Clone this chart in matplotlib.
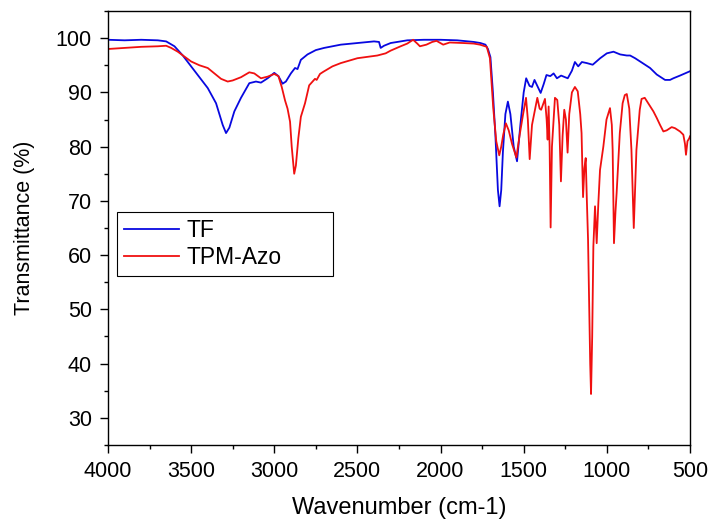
import matplotlib
matplotlib.use("Agg")
import matplotlib.pyplot as plt
from matplotlib.ticker import MultipleLocator

plt.rcParams['font.family'] = ['Liberation Sans', 'DejaVu Sans']

tf_wn = [4000, 3900, 3800, 3700, 3650, 3600, 3550, 3500, 3450, 3400, 3350, 3310, 3290, 3270,
         3240, 3200, 3150, 3110, 3080, 3040, 3000, 2975, 2950, 2930, 2900, 2875, 2860, 2840,
         2800, 2750, 2700, 2600, 2500, 2400, 2370, 2360, 2340, 2300, 2200, 2100, 2000, 1900,
         1800, 1760, 1730, 1715, 1700, 1685, 1670, 1655, 1645, 1635, 1625, 1610, 1595, 1580,
         1560, 1540, 1520, 1500, 1485, 1465, 1450, 1435, 1415, 1398, 1380, 1363, 1340, 1320,
         1300, 1275, 1235, 1210, 1192, 1172, 1150, 1120, 1085, 1040, 1000, 960, 920, 880, 860,
         830, 800, 770, 740, 700, 680, 650, 620, 600, 560, 500]
tf_t = [99.7, 99.6, 99.7, 99.6, 99.4, 98.5, 96.8, 94.8, 92.8, 90.8, 88.0, 84.0, 82.5, 83.5,
        86.5, 89.0, 91.7, 92.0, 91.8, 92.6, 93.6, 93.0, 91.6, 92.0, 93.5, 94.5, 94.3, 96.0,
        97.0, 97.8, 98.2, 98.8, 99.1, 99.4, 99.3, 98.2, 98.6, 99.1, 99.6, 99.7, 99.7, 99.6,
        99.3, 99.1, 98.8, 98.0, 96.5, 90.0, 82.0, 72.0, 69.0, 72.0, 79.0, 86.0, 88.3, 86.0,
        80.0, 77.3, 84.0, 90.0, 92.6, 91.2, 91.0, 92.3, 91.0, 89.9, 91.5, 93.2, 93.0, 93.5,
        92.6, 93.1, 92.6, 94.0, 95.6, 94.8, 95.6, 95.4, 95.1, 96.3, 97.2, 97.5, 97.0, 96.8, 96.8,
        96.3, 95.7, 95.1, 94.5, 93.3, 92.9, 92.3, 92.3, 92.6, 93.1, 93.9]

azo_wn = [4000, 3900, 3800, 3700, 3650, 3620, 3580, 3540, 3500, 3450, 3400, 3360, 3320, 3280,
          3250, 3200, 3150, 3120, 3080, 3040, 3000, 2975, 2955, 2935, 2920, 2905, 2895, 2880,
          2870, 2855, 2840, 2815, 2790, 2770, 2755, 2745, 2725, 2705, 2650, 2600, 2500, 2400,
          2380, 2330, 2300, 2240, 2200, 2165, 2140, 2124, 2085, 2050, 2024, 1984, 1945, 1864,
          1800, 1763, 1722, 1703, 1683, 1665, 1647, 1635, 1623, 1607, 1590, 1570, 1544, 1525,
          1504, 1486, 1475, 1464, 1450, 1418, 1404, 1395, 1372, 1362, 1356, 1350, 1344, 1338,
          1330, 1312, 1298, 1286, 1276, 1266, 1256, 1246, 1236, 1226, 1210, 1192, 1175, 1160,
          1152, 1143, 1135, 1127, 1120, 1113, 1100, 1095, 1088, 1081, 1071, 1061, 1051, 1041,
          1021, 1002, 981, 970, 965, 957, 948, 941, 922, 905, 892, 880, 865, 852, 838, 822,
          802, 791, 772, 751, 720, 700, 680, 660, 640, 610, 590, 560, 540, 530, 524, 515, 505, 500]
azo_t = [98.0, 98.2, 98.4, 98.5, 98.6, 98.2, 97.5, 96.6, 95.7, 95.0, 94.5, 93.5, 92.5, 92.0,
         92.2, 92.8, 93.7, 93.5, 92.6, 92.9, 93.4, 93.0, 91.0, 88.5, 87.0, 84.6, 80.0, 75.0,
         76.5, 81.6, 85.5, 88.0, 91.3, 92.0, 92.5, 92.3, 93.4, 93.8, 94.8, 95.4, 96.3, 96.7,
         96.8, 97.2, 97.7, 98.5, 99.0, 99.7, 99.0, 98.5, 98.8, 99.3, 99.5, 98.8, 99.2, 99.1,
         99.0, 98.8, 98.4, 96.3, 87.1, 81.0, 78.4, 80.0, 82.2, 84.3, 83.0, 80.5, 78.0, 82.0,
         85.9, 89.0, 85.0, 77.7, 84.0, 89.0, 87.0, 86.8, 88.8, 85.0, 81.3, 87.4, 80.0, 65.1,
         80.0, 89.0, 88.6, 84.0, 73.6, 82.0, 86.8, 85.0, 78.9, 86.0, 90.0, 91.0, 90.2, 86.0,
         82.5, 70.7, 76.0, 77.9, 70.0, 62.9, 40.0, 34.4, 45.0, 61.6, 69.0, 62.2, 69.6, 75.7,
         80.0, 85.0, 87.1, 84.0, 79.4, 62.2, 68.0, 71.5, 82.5, 88.0, 89.5, 89.7, 87.0, 79.4, 65.0, 79.4,
         86.8, 88.8, 89.0, 88.0, 86.5, 85.3, 84.0, 82.8, 83.0, 83.6, 83.4, 82.8, 82.2, 80.5, 78.5, 81.0, 81.5, 81.9]

labels = ["TF", "TPM-Azo"]
x_ticks = [4000, 3500, 3000, 2500, 2000, 1500, 1000, 500]
y_ticks = [30, 40, 50, 60, 70, 80, 90, 100]

fig = plt.figure(figsize=(7.15, 5.25), dpi=100)
ax = fig.add_axes([0.151, 0.1524, 0.814, 0.8266])

ax.plot(tf_wn, tf_t, color="#0808e0", lw=1.3, label=labels[0])
ax.plot(azo_wn, azo_t, color="#f01010", lw=1.3, label=labels[1])

ax.set_xlim(4000, 500)
ax.set_ylim(25, 105)
ax.set_xticks(x_ticks)
ax.set_yticks(y_ticks)
ax.xaxis.set_minor_locator(MultipleLocator(250))
ax.yaxis.set_minor_locator(MultipleLocator(5))
ax.tick_params(which='major', direction='out', length=5.5, width=1.0, labelsize=15.5, top=False, right=False)
ax.tick_params(which='minor', direction='out', length=3, width=1.0, top=False, right=False)
ax.tick_params(axis='x', pad=6)
ax.tick_params(axis='y', pad=6)
for s in ax.spines.values():
    s.set_linewidth(1.0)

ax.set_xlabel("Wavenumber (cm-1)", fontsize=17, labelpad=11)
ax.set_ylabel("Transmittance (%)", fontsize=15.5, labelpad=15)

leg = ax.legend(loc='upper left', bbox_to_anchor=(0.0155, 0.399, 0.372, 0.138), mode='expand',
                borderaxespad=0, fontsize=16.5, handlelength=2.4, handletextpad=0.35,
                labelspacing=0.2, fancybox=False, framealpha=1, edgecolor='black',
                borderpad=0.3)
leg.get_frame().set_linewidth(0.8)

fig.savefig("out.png", dpi=100)
